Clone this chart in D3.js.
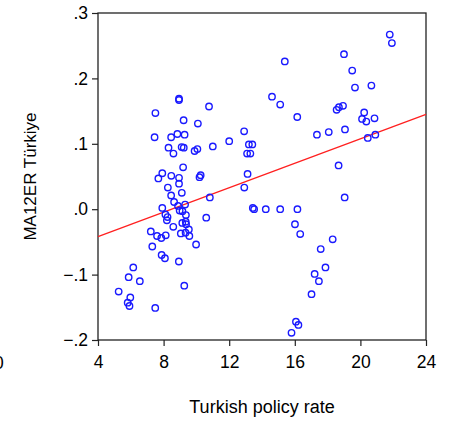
<!DOCTYPE html>
<head>
	<script src="https://d3js.org/d3.v7.min.js"></script>
	<style>
		body { margin: 0; background: #fff; }
		text { font-family: "Liberation Sans", Arial, sans-serif; fill: #000; }
		.axis text { font-size: 17.5px; }
		.axis path { display: none; }
		.axis line { stroke: #222; stroke-width: 1.2; }
	</style>
</head>
<body>
	<script>
		// policy rate (x) and MA12ER Türkiye (y)
		var rate = [7.50, 8.94, 8.94, 10.77, 9.22, 10.09, 7.45, 8.46, 8.84, 9.28,
			12.91, 12.00, 8.30, 9.10, 9.23, 8.60, 9.89, 10.06, 11.00, 13.20,
			13.41, 13.09, 13.29, 9.19, 7.92, 7.68, 8.47, 8.94, 10.26, 10.19,
			13.12, 12.92, 8.94, 8.26, 8.46, 9.11, 8.64, 10.82, 7.92, 8.11,
			8.24, 8.20, 8.88, 9.31, 8.98, 9.15, 9.36, 10.60, 9.14, 9.35,
			9.37, 8.59, 7.22, 9.54, 7.60, 7.86, 8.13, 9.05, 9.34, 9.57,
			9.98, 7.31, 7.88, 8.08, 8.93, 6.15, 5.87, 6.55, 5.26, 5.97,
			5.81, 5.92, 9.26, 7.49, 13.44, 13.52, 14.23, 15.11, 16.16, 14.61,
			15.11, 16.15, 21.79, 21.92, 19.00, 15.39, 19.50, 19.67, 20.67, 18.55,
			18.69, 18.94, 20.23, 20.10, 20.36, 20.86, 17.35, 18.07, 19.06, 20.45,
			20.91, 18.67, 19.04, 16.01, 16.33, 18.31, 17.58, 17.87, 17.21, 17.47,
			17.02, 16.07, 16.22, 15.80];
		var er = [0.147, 0.169, 0.167, 0.157, 0.136, 0.131, 0.110, 0.110, 0.115, 0.114,
			0.119, 0.104, 0.094, 0.095, 0.094, 0.085, 0.089, 0.092, 0.096, 0.099,
			0.099, 0.085, 0.085, 0.064, 0.055, 0.047, 0.051, 0.048, 0.052, 0.049,
			0.054, 0.033, 0.039, 0.033, 0.021, 0.025, 0.011, 0.018, 0.002, -0.008,
			-0.012, -0.017, 0.005, 0.007, -0.002, -0.003, -0.009, -0.013, -0.021, -0.019,
			-0.023, -0.027, -0.034, -0.031, -0.041, -0.044, -0.040, -0.037, -0.036, -0.041,
			-0.054, -0.057, -0.070, -0.075, -0.080, -0.089, -0.104, -0.110, -0.126, -0.135,
			-0.143, -0.148, -0.117, -0.151, 0.002, 0.000, 0.000, 0.000, 0.000, 0.172,
			0.160, 0.141, 0.267, 0.254, 0.237, 0.226, 0.212, 0.186, 0.189, 0.152,
			0.156, 0.158, 0.148, 0.138, 0.134, 0.139, 0.114, 0.118, 0.122, 0.109,
			0.114, 0.067, 0.018, -0.023, -0.038, -0.046, -0.061, -0.089, -0.099, -0.110,
			-0.130, -0.172, -0.177, -0.189];

		// fitted line, end points
		var fitX = [4, 24];
		var fitY = [-0.042, 0.145];

		var xTicks = [4, 8, 12, 16, 20, 24];
		var yTicks = [-0.2, -0.1, 0, 0.1, 0.2, 0.3];

		var width = 449, height = 422;
		var plot = { left: 98, right: 426, top: 13, bottom: 340 };

		var svg = d3.select("body").append("svg")
			.attr("width", width)
			.attr("height", height);

		var x = d3.scaleLinear().domain([4, 24]).range([plot.left, plot.right]);
		var y = d3.scaleLinear().domain([-0.2, 0.3]).range([plot.bottom, plot.top]);

		// ".3", "-.1" style labels
		var fmt = d => d3.format(".1f")(d).replace("0.", ".");

		svg.append("g")
			.attr("class", "axis")
			.attr("transform", "translate(" + [plot.left, 0] + ")")
			.call(d3.axisLeft(y).tickValues(yTicks).tickFormat(fmt).tickSize(6).tickPadding(4));

		svg.append("g")
			.attr("class", "axis")
			.attr("transform", "translate(" + [0, plot.bottom] + ")")
			.call(d3.axisBottom(x).tickValues(xTicks).tickSize(6).tickPadding(10));

		// frame
		svg.append("rect")
			.attr("x", plot.left)
			.attr("y", plot.top)
			.attr("width", plot.right - plot.left)
			.attr("height", plot.bottom - plot.top)
			.attr("fill", "none")
			.attr("stroke", "#222")
			.attr("stroke-width", 1.3);

		svg.append("line")
			.attr("x1", x(fitX[0])).attr("y1", y(fitY[0]))
			.attr("x2", x(fitX[1])).attr("y2", y(fitY[1]))
			.attr("stroke", "#ff2020")
			.attr("stroke-width", 1.3);

		svg.selectAll("circle.pt")
			.data(d3.range(rate.length))
			.enter()
			.append("circle")
			.attr("class", "pt")
			.attr("cx", i => x(rate[i]))
			.attr("cy", i => y(er[i]))
			.attr("r", 3.2)
			.attr("fill", "none")
			.attr("stroke", "#1a1aff")
			.attr("stroke-width", 1.4);

		svg.append("text")
			.attr("x", (plot.left + plot.right) / 2)
			.attr("y", 413)
			.attr("text-anchor", "middle")
			.style("font-size", "18px")
			.text("Turkish policy rate");

		svg.append("text")
			.attr("transform", "translate(36," + (plot.top + plot.bottom) / 2 + ") rotate(-90)")
			.attr("text-anchor", "middle")
			.style("font-size", "17px")
			.text("MA12ER Türkiye");

		// clipped label from the neighbouring panel
		svg.append("text")
			.attr("x", -6)
			.attr("y", 369)
			.style("font-size", "17.5px")
			.text("0");
	</script>
</body>
</html>
